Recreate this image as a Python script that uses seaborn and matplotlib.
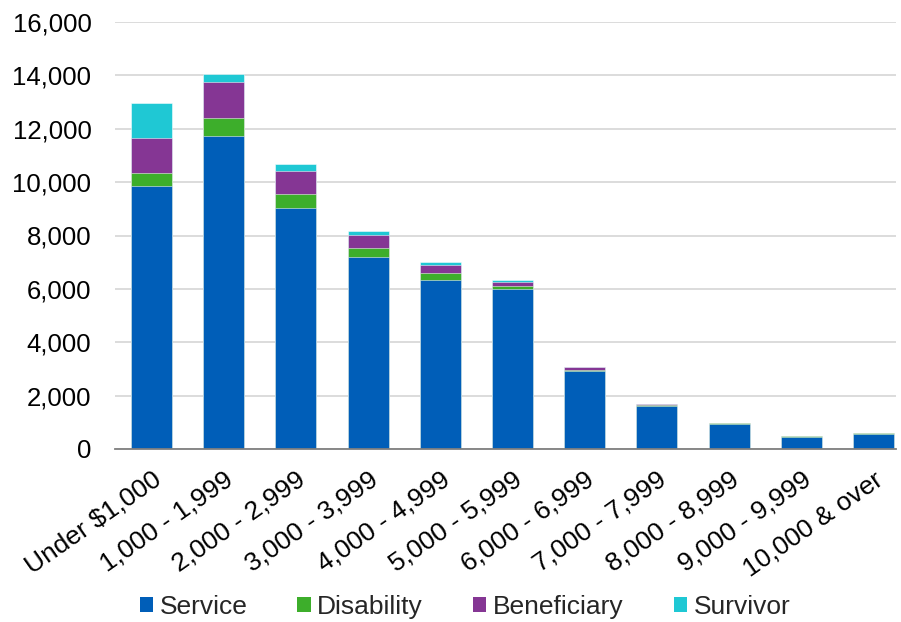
import matplotlib
matplotlib.use("Agg")
import matplotlib.pyplot as plt
import seaborn as sns
import pandas as pd
import numpy as np
from matplotlib.ticker import FuncFormatter
from matplotlib.patches import Patch

categories = ["Under $1,000", "1,000 - 1,999", "2,000 - 2,999", "3,000 - 3,999",
              "4,000 - 4,999", "5,000 - 5,999", "6,000 - 6,999", "7,000 - 7,999",
              "8,000 - 8,999", "9,000 - 9,999", "10,000 & over"]
service     = [9870, 11716, 9020, 7200, 6340, 6000, 2930, 1620, 950, 460, 580]
disability  = [470, 684, 550, 340, 240, 90, 40, 20, 10, 30, 5]
beneficiary = [1325, 1340, 860, 475, 325, 175, 90, 60, 20, 10, 5]
survivor    = [1300, 323, 240, 160, 100, 75, 5, 3, 8, 3, 3]

series_names = ["Service", "Disability", "Beneficiary", "Survivor"]
colors = ["#005EB8", "#3DAE2B", "#853694", "#1FC8D4"]

df = pd.DataFrame({"cat": categories, "Service": service, "Disability": disability,
                   "Beneficiary": beneficiary, "Survivor": survivor})
cum = df[series_names].cumsum(axis=1)

sns.set_style("white")
plt.rcParams["font.family"] = ["Liberation Sans", "DejaVu Sans"]

fig = plt.figure(figsize=(9.01, 6.22), dpi=100)
ax = fig.add_axes([115/901, 1-449/622, (896-115)/901, (449-22)/622])

for name, col in reversed(list(zip(series_names, colors))):
    sns.barplot(x=df["cat"], y=cum[name], color=col, ax=ax, width=0.568,
                edgecolor=(1, 1, 1, 0.6), linewidth=0.6, saturation=1, zorder=3)

ax.set_ylim(0, 16000)
ax.set_xlim(-0.506, 10.31)
ax.set_yticks(np.arange(0, 16001, 2000))
ax.yaxis.set_major_formatter(FuncFormatter(lambda v, p: f"{int(v):,}"))
ax.grid(axis="y", color="#d9d9d9", linewidth=1.3, zorder=0)
ax.set_axisbelow(True)
ax.set_xlabel("")
ax.set_ylabel("")
for s in ["top", "right", "left"]:
    ax.spines[s].set_visible(False)
ax.spines["bottom"].set_color("#7f7f7f")
ax.spines["bottom"].set_linewidth(1.3)
ax.spines["bottom"].set_zorder(5)
ax.tick_params(axis="y", length=0, pad=17, labelsize=18.5, colors="black")
ax.tick_params(axis="x", length=0, pad=13, labelsize=19, colors="black")
plt.setp(ax.get_xticklabels(), rotation=35, ha="right", va="top", rotation_mode="anchor")

handles = [Patch(facecolor=c, edgecolor="none") for c in colors]
fig.legend(handles, series_names, loc="center", bbox_to_anchor=(0.516, 1-607/622),
           ncol=4, frameon=False, fontsize=19, handlelength=0.5, handleheight=0.5,
           handletextpad=0.25, columnspacing=1.9)

fig.savefig("out.png", dpi=100)
